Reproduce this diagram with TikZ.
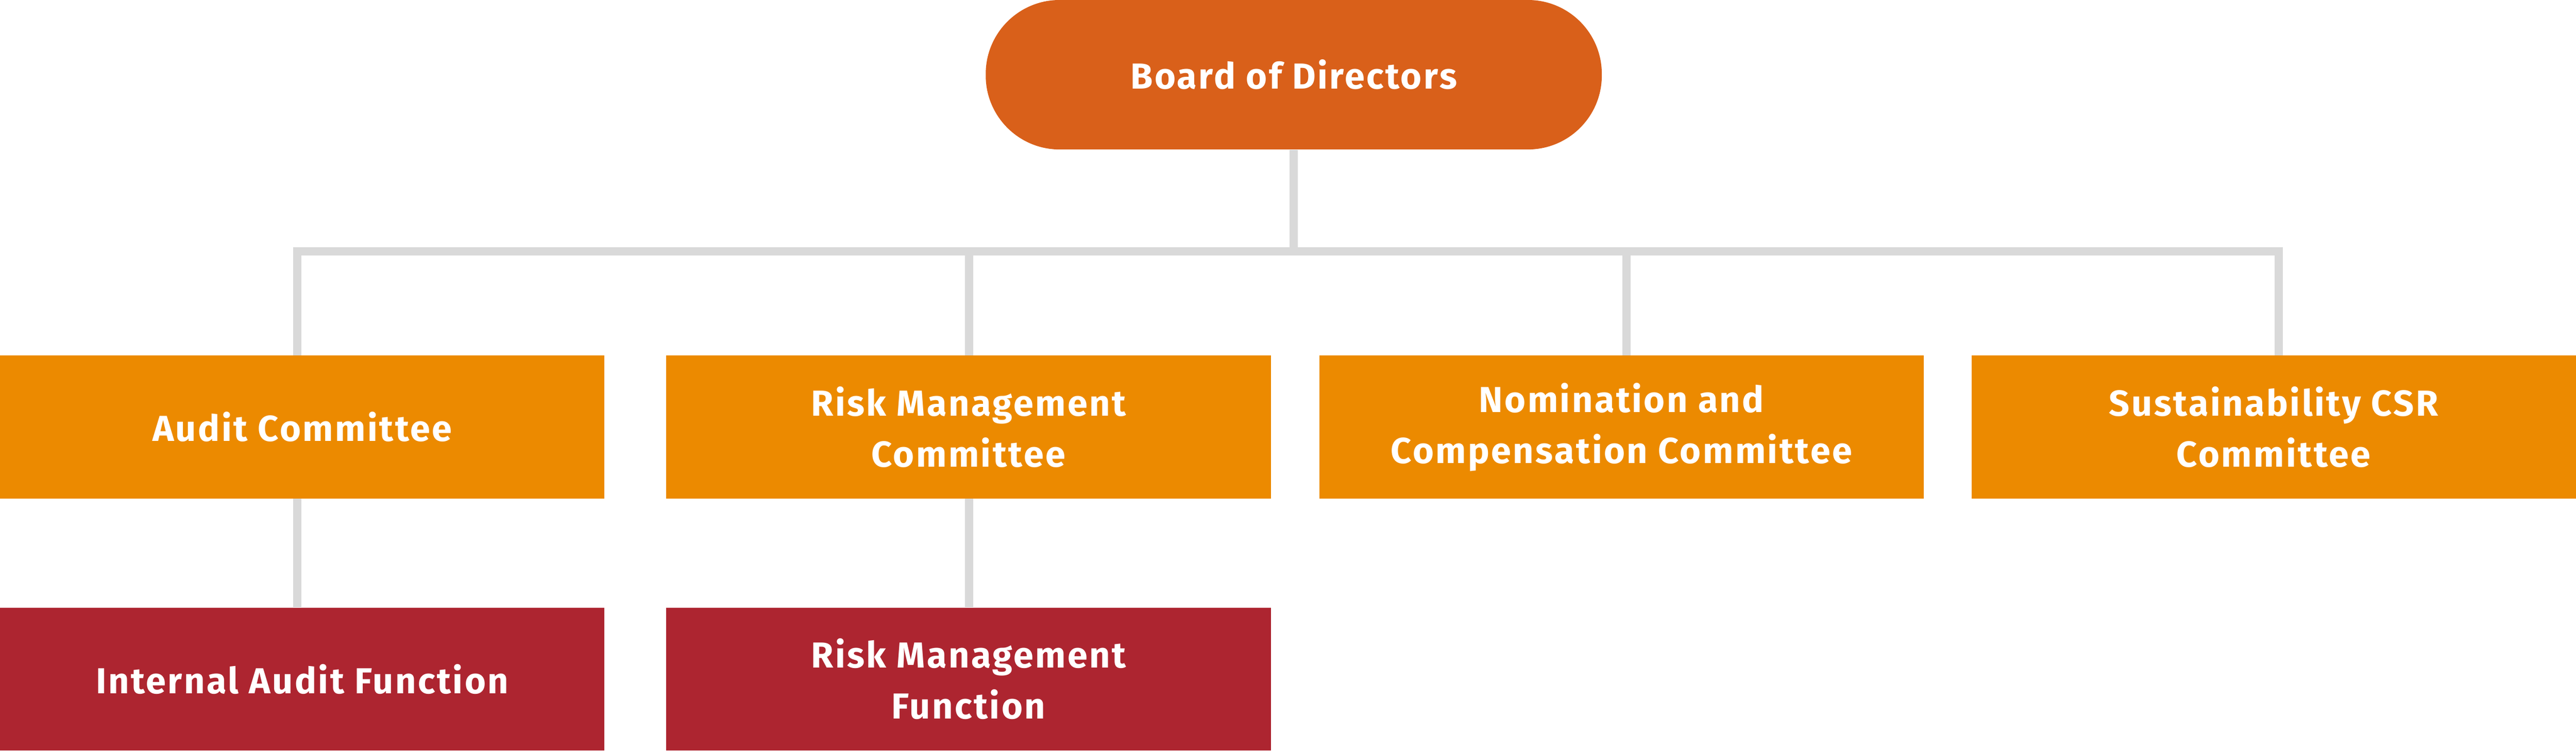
\documentclass[tikz,border=0pt]{standalone}
\usepackage{fontspec}
\setmainfont{Fira Sans}[LetterSpace=5]
\usetikzlibrary{positioning}
\definecolor{boardorange}{HTML}{D9601A}
\definecolor{comorange}{HTML}{EC8A00}
\definecolor{funcred}{HTML}{AD2530}
\definecolor{linkgrey}{HTML}{D9D9D9}
\tikzset{
  unit/.style={font=\fontsize{22}{31}\selectfont\bfseries, text=white, align=center,
    minimum width=368pt, minimum height=87pt, inner sep=0pt},
  committee/.style={unit, fill=comorange},
  function/.style={unit, fill=funcred},
  link/.style={draw=linkgrey, line width=5pt},
}
\begin{document}
\begin{tikzpicture}[x=1pt, y=1pt]
  \useasboundingbox (0,0) rectangle (1568,457);
  % top
  \node[unit, fill=boardorange, minimum width=375pt, minimum height=91pt,
        rounded corners=45pt] (board) at (787.5,411.5) {Board of Directors};
  % committees
  \node[committee] (audit) at (184,197) {Audit Committee};
  \node[committee] (risk) at (589.5,197) {Risk Management\\Committee};
  \node[committee] (nomination) at (987,197) {Nomination and\\Compensation Committee};
  \node[committee] (csr) at (1384,197) {Sustainability CSR\\Committee};
  % functions
  \node[function] (internal) at (184,43.5) {Internal Audit Function};
  \node[function] (riskfn) at (589.5,43.5) {Risk Management\\Function};
  % links
  \coordinate (bus) at (787.5,304);
  \draw[link] (board.south) -- (bus);
  \draw[link] (audit.north -| 181,0) |- (1387,304) -- (csr.north -| 1387,0);
  \draw[link] (bus -| 590,0) -- (risk.north -| 590,0);
  \draw[link] (bus -| 990,0) -- (nomination.north -| 990,0);
  \draw[link] (audit.south -| 181,0) -- (internal.north -| 181,0);
  \draw[link] (risk.south -| 590,0) -- (riskfn.north -| 590,0);
\end{tikzpicture}
\end{document}
